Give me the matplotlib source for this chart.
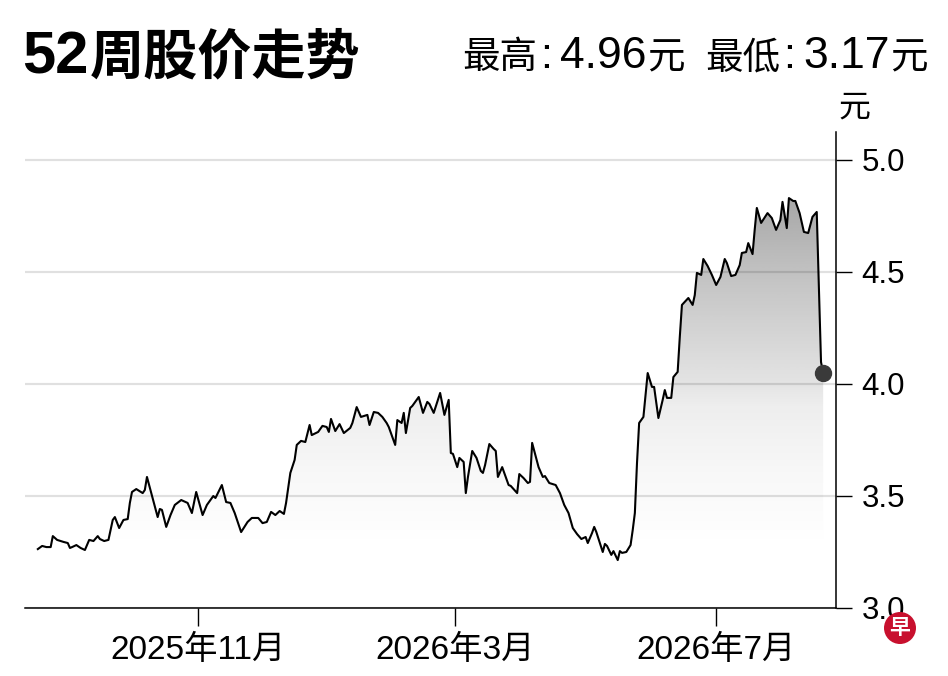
import matplotlib
matplotlib.use("Agg")
import matplotlib.pyplot as plt
import matplotlib.dates as mdates
import numpy as np
from matplotlib.colors import LinearSegmentedColormap
from matplotlib.patches import Ellipse, Polygon

LATIN = ['Liberation Sans', 'Noto Sans CJK SC', 'DejaVu Sans']
CJK = ['Noto Sans CJK SC', 'Liberation Sans', 'DejaVu Sans']
plt.rcParams['font.family'] = LATIN

# ---------------- data ----------------
start_date = "2025-08-18"
day_offsets = [
    0, 2, 4, 6, 7, 9, 12, 14, 15, 16, 18, 20, 22, 24, 26, 28, 29, 31, 33, 35,
    36, 38, 40, 42, 43, 44, 46, 49, 50, 51, 53, 56, 57, 58, 60, 62, 64, 67, 70, 72,
    74, 77, 79, 82, 83, 86, 88, 90, 92, 95, 98, 100, 103, 105, 107, 109, 111, 113, 115, 116,
    118, 120, 121, 123, 125, 127, 128, 131, 133, 135, 136, 137, 139, 141, 143, 146, 147, 149, 151, 154,
    155, 157, 159, 161, 163, 164, 167, 168, 170, 171, 172, 174, 175, 178, 180, 182, 183, 185, 188, 190,
    192, 193, 194, 196, 197, 199, 200, 201, 203, 205, 207, 208, 209, 211, 213, 214, 215, 217, 220, 221,
    224, 225, 227, 229, 230, 231, 233, 234, 236, 237, 239, 242, 244, 246, 248, 250, 252, 254, 256, 257,
    259, 260, 261, 264, 265, 266, 268, 269, 271, 272, 273, 275, 277, 278, 279, 280, 281, 283, 285, 287,
    288, 290, 292, 293, 294, 296, 297, 299, 300, 301, 304, 306, 307, 308, 310, 311, 313, 315, 317, 319,
    321, 322, 324, 326, 328, 329, 331, 332, 334, 335, 336, 338, 341, 343, 345, 347, 348, 350, 351, 353,
    354, 356, 358, 360, 362, 364, 366, 367,
]
prices = [
    3.263, 3.277, 3.272, 3.272, 3.321, 3.304, 3.295, 3.290, 3.268, 3.272, 3.281, 3.268, 3.259, 3.304, 3.299, 3.321, 3.308, 3.299, 3.304, 3.393,
    3.406, 3.357, 3.393, 3.397, 3.469, 3.518, 3.531, 3.513, 3.527, 3.585, 3.513, 3.406, 3.442, 3.438, 3.362, 3.415, 3.460, 3.482, 3.469, 3.424,
    3.518, 3.415, 3.460, 3.500, 3.491, 3.549, 3.473, 3.469, 3.424, 3.339, 3.384, 3.402, 3.402, 3.379, 3.384, 3.429, 3.415, 3.433, 3.420, 3.469,
    3.603, 3.661, 3.728, 3.746, 3.741, 3.817, 3.772, 3.786, 3.813, 3.808, 3.786, 3.844, 3.790, 3.821, 3.781, 3.804, 3.826, 3.897, 3.853, 3.862,
    3.817, 3.875, 3.871, 3.853, 3.826, 3.808, 3.728, 3.839, 3.826, 3.871, 3.781, 3.893, 3.902, 3.942, 3.871, 3.920, 3.911, 3.871, 3.960, 3.862,
    3.929, 3.692, 3.688, 3.629, 3.670, 3.652, 3.513, 3.585, 3.701, 3.670, 3.612, 3.603, 3.638, 3.732, 3.710, 3.701, 3.585, 3.629, 3.549, 3.545,
    3.513, 3.598, 3.580, 3.558, 3.563, 3.737, 3.665, 3.629, 3.585, 3.589, 3.558, 3.549, 3.513, 3.460, 3.424, 3.357, 3.330, 3.308, 3.317, 3.290,
    3.335, 3.362, 3.339, 3.250, 3.286, 3.277, 3.237, 3.254, 3.214, 3.254, 3.246, 3.250, 3.281, 3.348, 3.424, 3.647, 3.826, 3.853, 4.049, 3.987,
    3.987, 3.848, 3.929, 3.973, 3.938, 3.938, 4.031, 4.054, 4.210, 4.353, 4.384, 4.353, 4.397, 4.496, 4.487, 4.558, 4.527, 4.487, 4.442, 4.478,
    4.558, 4.540, 4.482, 4.487, 4.531, 4.585, 4.589, 4.629, 4.580, 4.688, 4.786, 4.719, 4.763, 4.741, 4.688, 4.732, 4.813, 4.696, 4.830, 4.817,
    4.817, 4.763, 4.679, 4.674, 4.746, 4.768, 4.098, 4.049,
]
title_num = "52"
title_cjk = "周股价走势"
high_label, high_value = "最高", "4.96"
low_label, low_value = "最低", "3.17"
currency = "元"
unit_text = "元"
y_ticks = [3.0, 3.5, 4.0, 4.5, 5.0]
x_tick_dates = ["2025-11-01", "2026-03-01", "2026-07-01"]
x_tick_labels = ["2025年11月", "2026年3月", "2026年7月"]
x_range = ["2025-08-12", "2026-08-26"]
y_range = [3.0, 5.125]

assert len(day_offsets) == len(prices)

# ---------------- figure ----------------
W, H = 948, 676
fig = plt.figure(figsize=(W / 100, H / 100), dpi=100)
fig.patch.set_facecolor("white")
ax = fig.add_axes([25 / W, 1 - 608 / H, (836 - 25) / W, (608 - 132) / H])

dates = np.datetime64(start_date) + np.array(day_offsets).astype("timedelta64[D]")
xs = mdates.date2num(dates)
ys = np.array(prices)

ax.set_xlim(mdates.date2num(np.datetime64(x_range[0])), mdates.date2num(np.datetime64(x_range[1])))
ax.set_ylim(*y_range)

# gradient fill under the line
stops = [(3.0, 255), (3.3, 255), (3.6, 248), (3.9, 238), (4.0, 228),
         (4.3, 208), (4.5, 194), (4.85, 166), (5.125, 150)]
lo, hi = y_range
cmap = LinearSegmentedColormap.from_list(
    "fade", [((p - lo) / (hi - lo), (g / 255, g / 255, g / 255)) for p, g in stops])
grad = np.linspace(lo, hi, 500)[:, None]
im = ax.imshow(grad, cmap=cmap, vmin=lo, vmax=hi, origin="lower", aspect="auto",
               extent=[xs[0], xs[-1], lo, hi], zorder=1, interpolation="bilinear")
verts = [(xs[0], lo)] + list(zip(xs, ys)) + [(xs[-1], lo)]
poly = Polygon(verts, closed=True, facecolor="none", edgecolor="none", transform=ax.transData)
ax.add_patch(poly)
im.set_clip_path(poly)

# grid
ax.set_axisbelow(False)
ax.set_yticks(y_ticks)
ax.set_yticklabels([f"{v:.1f}" for v in y_ticks])
ax.yaxis.grid(True, color="black", alpha=0.12, lw=1.6, zorder=2)

# line and end marker
ax.plot(xs, ys, color="black", lw=1.5, zorder=3)
ax.plot(xs[-1], ys[-1], "o", ms=11.5, color="#3a3a3a", zorder=4, clip_on=False)

# axes styling
for s in ["left", "top"]:
    ax.spines[s].set_visible(False)
for s in ["right", "bottom"]:
    ax.spines[s].set_color("black")
    ax.spines[s].set_linewidth(1.1)
ax.yaxis.tick_right()
ax.tick_params(axis="y", which="both", direction="out", length=11.5, width=1.0,
               pad=7, labelsize=22.5, colors="black")
ax.set_xticks(mdates.date2num(np.array(x_tick_dates, dtype="datetime64[D]")))
ax.set_xticklabels(x_tick_labels)
ax.tick_params(axis="x", direction="out", length=13, width=1.0, pad=6, labelsize=24)

# ---------------- header texts ----------------
renderer = fig.canvas.get_renderer()


def px(x, y):
    return x / W, 1 - y / H


def row(pieces, x, baseline, align="left"):
    """pieces: list of (text, kwargs, gap_before_px)."""
    texts, widths = [], []
    for s, kw, gap in pieces:
        t = fig.text(0, 0, s, ha="left", va="baseline", **kw)
        texts.append(t)
        widths.append(t.get_window_extent(renderer=renderer).width)
    total = sum(widths) + sum(g for _, _, g in pieces)
    cur = x if align == "left" else x - total
    for t, w, (_, _, gap) in zip(texts, widths, pieces):
        cur += gap
        t.set_position(px(cur, baseline))
        cur += w


row([(title_num, dict(fontsize=43, fontweight="bold", family=LATIN), 0),
     (title_cjk, dict(fontsize=39, fontweight="heavy", family=CJK), 1)],
    22, 73, "left")

row([(high_label, dict(fontsize=27, family=CJK), 0),
     (":", dict(fontsize=31, family=LATIN), 3),
     (high_value, dict(fontsize=32, family=LATIN), 8),
     (currency, dict(fontsize=27, family=CJK), 1),
     (low_label, dict(fontsize=27, family=CJK), 20),
     (":", dict(fontsize=31, family=LATIN), 3),
     (low_value, dict(fontsize=32, family=LATIN), 8),
     (currency, dict(fontsize=27, family=CJK), 1)],
    928, 68, "right")

fig.text(838 / W, 1 - 108 / H, unit_text, fontsize=23, ha="left", va="center", family=CJK)

# logo
cx, cy, r = 900, 628, 16
fig.add_artist(Ellipse((cx / W, 1 - cy / H), 2 * r / W, 2 * r / H,
                       transform=fig.transFigure, facecolor="#c8102e", edgecolor="none"))
fig.text(cx / W, 1 - cy / H, "早", fontsize=15, fontweight="bold", color="white",
         ha="center", va="center", family=CJK)

fig.savefig("out.png", dpi=100)
